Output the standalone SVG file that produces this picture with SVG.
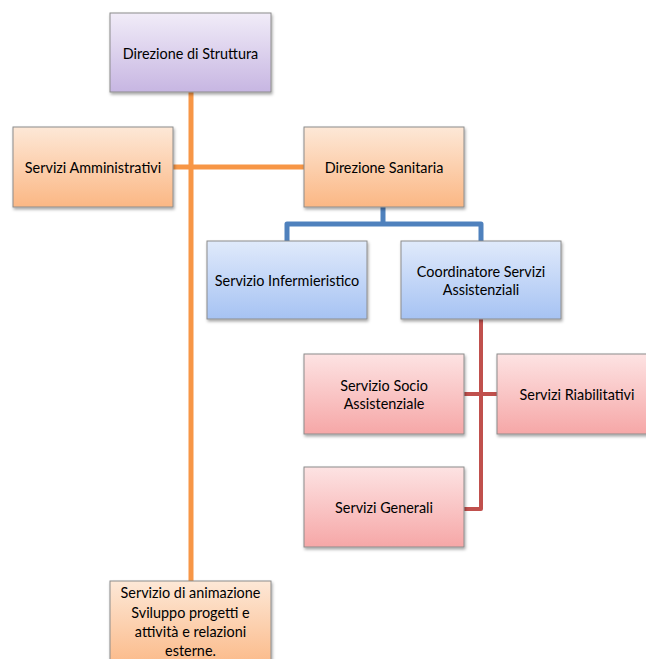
<svg xmlns="http://www.w3.org/2000/svg" width="646" height="659" viewBox="0 0 646 659">
<style>
.box{stroke:#8c8c8c;stroke-width:1;filter:url(#sh)}
.t{font-family:Lato,"Open Sans",sans-serif;font-size:14.4px;fill:#000;text-anchor:middle;dominant-baseline:central}
.ln{fill:none;stroke-linejoin:round}
</style>
<defs>
<filter id="sh" x="-10%" y="-10%" width="130%" height="130%"><feDropShadow dx="1" dy="2" stdDeviation="1.5" flood-color="#000" flood-opacity="0.35"/></filter>
<linearGradient id="gP" x1="0" y1="0" x2="0" y2="1"><stop offset="0" stop-color="#f1ecf8"/><stop offset="1" stop-color="#c7b6e2"/></linearGradient>
<linearGradient id="gO" x1="0" y1="0" x2="0" y2="1"><stop offset="0" stop-color="#fde8d7"/><stop offset="1" stop-color="#fbb784"/></linearGradient>
<linearGradient id="gB" x1="0" y1="0" x2="0" y2="1"><stop offset="0" stop-color="#e0eafb"/><stop offset="1" stop-color="#a6c3f3"/></linearGradient>
<linearGradient id="gR" x1="0" y1="0" x2="0" y2="1"><stop offset="0" stop-color="#fde3e3"/><stop offset="1" stop-color="#f6a7a7"/></linearGradient>
</defs>
<g id="connectors">
<path class="ln" d="M191 92 V581 M173 167 H304" stroke="#f79646" stroke-width="5"/>
<path class="ln" d="M383 207 V224 M287 241 V224 H481 V241" stroke="#4f81bd" stroke-width="5"/>
<path class="ln" d="M481 319 V509 H464 M464 394 H497" stroke="#c0504d" stroke-width="4"/>
</g>
<g id="n1"><rect class="box" x="110" y="13" width="161" height="79" fill="url(#gP)"/><text class="t" x="190.5" y="53">Direzione di Struttura</text></g>
<g id="n2"><rect class="box" x="13" y="127" width="160" height="80" fill="url(#gO)"/><text class="t" x="93" y="167">Servizi Amministrativi</text></g>
<g id="n3"><rect class="box" x="304" y="127" width="160" height="80" fill="url(#gO)"/><text class="t" x="384" y="167">Direzione Sanitaria</text></g>
<g id="n4"><rect class="box" x="207" y="241" width="160" height="78" fill="url(#gB)"/><text class="t" x="287" y="280">Servizio Infermieristico</text></g>
<g id="n5"><rect class="box" x="401" y="241" width="160" height="78" fill="url(#gB)"/><text class="t" x="481" y="271">Coordinatore Servizi</text><text class="t" x="481" y="289">Assistenziali</text></g>
<g id="n6"><rect class="box" x="304" y="354" width="160" height="80" fill="url(#gR)"/><text class="t" x="384" y="385">Servizio Socio</text><text class="t" x="384" y="403">Assistenziale</text></g>
<g id="n7"><rect class="box" x="497" y="354" width="160" height="80" fill="url(#gR)"/><text class="t" x="577" y="394">Servizi Riabilitativi</text></g>
<g id="n8"><rect class="box" x="304" y="467" width="160" height="80" fill="url(#gR)"/><text class="t" x="384" y="507">Servizi Generali</text></g>
<g id="n9"><rect class="box" x="110" y="581" width="161" height="90" fill="url(#gO)"/><text class="t" x="190.5" y="592">Servizio di animazione</text><text class="t" x="190.5" y="612">Sviluppo progetti e</text><text class="t" x="190.5" y="631">attività e relazioni</text><text class="t" x="190.5" y="650">esterne.</text></g>
</svg>
